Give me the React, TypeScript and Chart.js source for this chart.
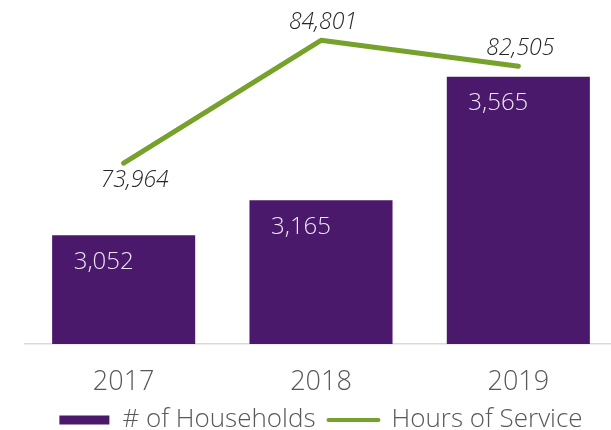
import React, { useEffect, useRef } from "react";
import { Chart, registerables } from "chart.js";

Chart.register(...registerables);

const categories = ["2017", "2018", "2019"];
const households = [3052, 3165, 3565];
const hoursOfService = [73964, 84801, 82505];
const hoursLabelSide = ["below", "above", "above"];
const seriesNames = ["# of Households", "Hours of Service"];

const PURPLE = "#4A196B";
const GREEN = "#76A12B";
const FONT = "'Open Sans', 'Lato', sans-serif";

const fmt = (v: number) => v.toLocaleString("en-US");

const valueLabels = {
  id: "valueLabels",
  afterDatasetsDraw(chart: any) {
    const ctx = chart.ctx;
    ctx.save();
    const barMeta = chart.getDatasetMeta(0);
    ctx.font = `300 24px ${FONT}`;
    ctx.fillStyle = "#EDE6F3";
    ctx.textAlign = "center";
    ctx.textBaseline = "middle";
    barMeta.data.forEach((el: any, i: number) => {
      ctx.fillText(fmt(households[i]), el.x - 20, el.y + 27);
    });
    const lineMeta = chart.getDatasetMeta(1);
    ctx.font = `italic 300 23px ${FONT}`;
    ctx.fillStyle = "#262626";
    lineMeta.data.forEach((el: any, i: number) => {
      const below = hoursLabelSide[i] === "below";
      ctx.fillText(fmt(hoursOfService[i]), el.x + (below ? 11 : 2), el.y + (below ? 17 : -18));
    });
    ctx.restore();
  },
};

export default function App() {
  const ref = useRef<HTMLCanvasElement>(null);
  useEffect(() => {
    const canvas = ref.current!;
    const chart = new Chart(canvas, {
      data: {
        labels: categories,
        datasets: [
          {
            type: "bar",
            label: seriesNames[0],
            data: households,
            backgroundColor: PURPLE,
            yAxisID: "y",
            barPercentage: 0.725,
            categoryPercentage: 1,
          },
          {
            type: "line",
            label: seriesNames[1],
            data: hoursOfService,
            borderColor: GREEN,
            backgroundColor: GREEN,
            borderWidth: 5,
            borderCapStyle: "round",
            borderJoinStyle: "round",
            pointRadius: 0,
            tension: 0,
            yAxisID: "y2",
          },
        ],
      } as any,
      options: {
        responsive: false,
        animation: false,
        layout: { padding: { left: 25, right: 23, top: 4, bottom: 0 } },
        scales: {
          x: {
            grid: { display: false, drawTicks: false },
            border: { display: true, color: "#D9D9D9", width: 1.5 },
            ticks: {
              color: "#595959",
              font: { family: FONT, size: 27, weight: "300" as any },
              padding: 22,
            },
            afterFit: (scale: any) => {
              scale.height = 50;
            },
          },
          y: { display: false, min: 2700, max: 3800 },
          y2: { display: false, min: 58000, max: 88000, position: "right" },
        },
        plugins: {
          legend: {
            position: "bottom",
            labels: {
              usePointStyle: true,
              pointStyleWidth: 50,
              boxHeight: 9,
              padding: 13,
              color: "#595959",
              font: { family: FONT, size: 26, weight: "300" as any },
              generateLabels: () => [
                {
                  text: seriesNames[0],
                  fillStyle: PURPLE,
                  strokeStyle: PURPLE,
                  lineWidth: 0,
                  pointStyle: "rect",
                  datasetIndex: 0,
                  fontColor: "#595959",
                } as any,
                {
                  text: seriesNames[1],
                  fillStyle: GREEN,
                  strokeStyle: GREEN,
                  lineWidth: 4,
                  lineCap: "round",
                  pointStyle: "line",
                  datasetIndex: 1,
                  fontColor: "#595959",
                } as any,
              ],
            },
          },
          tooltip: { enabled: false },
        },
      },
      plugins: [valueLabels],
    });
    return () => chart.destroy();
  }, []);
  return (
    <div style={{ position: "fixed", left: 0, top: 0, width: 611, height: 430, overflow: "hidden", background: "#fff" }}>
      <canvas ref={ref} width={640} height={443} style={{ display: "block" }} />
    </div>
  );
}
